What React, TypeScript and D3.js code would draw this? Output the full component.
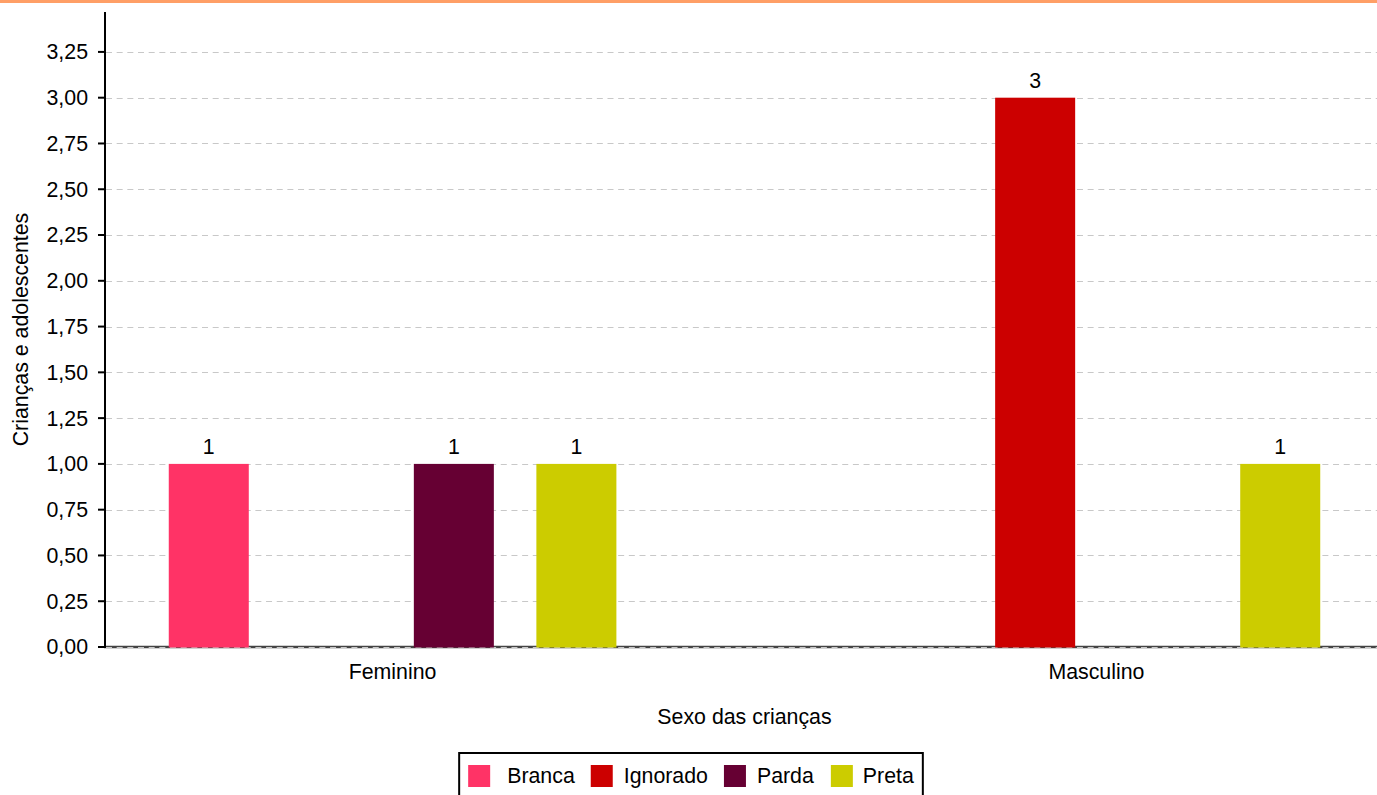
import React from 'react';
import * as d3 from 'd3';

const categories = ['Feminino', 'Masculino'];
const seriesNames = ['Branca', 'Ignorado', 'Parda', 'Preta'];
const seriesColors = ['#ff3366', '#cc0000', '#660033', '#cccc00'];
const valuesFeminino: (number | null)[] = [1, null, 1, 1];
const valuesMasculino: (number | null)[] = [null, 3, null, 1];
const yTickValues = [0, 0.25, 0.5, 0.75, 1, 1.25, 1.5, 1.75, 2, 2.25, 2.5, 2.75, 3, 3.25];
const yTitle = 'Crianças e adolescentes';
const xTitle = 'Sexo das crianças';

const W = 1377;
const H = 795;
const FONT = '"Liberation Sans", Arial, Helvetica, sans-serif';
const FS = 21.33;
const left = 105;
const right = 1385;
const top = 12;
const bottom = 647;

function measure(text: string, size: number) {
  const c = document.createElement('canvas').getContext('2d');
  if (!c) return text.length * size * 0.55;
  c.font = `${size}px ${FONT}`;
  return c.measureText(text).width;
}

export default function App() {
  const table = [valuesFeminino, valuesMasculino];
  const x0 = d3.scaleBand<string>().domain(categories).range([104, right]).paddingInner(0.18).paddingOuter(0);
  const x1 = d3
    .scaleBand<string>()
    .domain(seriesNames)
    .range([0, x0.bandwidth()])
    .paddingInner(0.347)
    .paddingOuter(0.5285);
  const y = d3.scaleLinear().domain([0, 3.468]).range([bottom, top]);
  const fmt = (v: number) => d3.format('.2f')(v).replace('.', ',');

  // legend layout
  const sw = 22;
  const legendGapsText = [17, 11, 11, 10];
  const legendGapsAfter = [16, 16, 17, 10];
  const items: { x: number; tx: number; name: string; color: string }[] = [];
  let cur = 10;
  seriesNames.forEach((n, i) => {
    const tw = measure(n, FS);
    items.push({ x: cur, tx: cur + sw + legendGapsText[i], name: n, color: seriesColors[i] });
    cur += sw + legendGapsText[i] + tw + legendGapsAfter[i];
  });
  const legendW = cur;
  const legendX = 691 - legendW / 2;

  return (
    <svg
      width={W}
      height={H}
      style={{ position: 'absolute', left: 0, top: 0, fontFamily: FONT }}
    >
      <rect x={0} y={0} width={W} height={H} fill="#fff" />
      <rect x={0} y={0} width={W} height={3} fill="#ff9f66" />
      {/* x axis base line */}
      <line x1={104} x2={right} y1={bottom} y2={bottom} stroke="#444" strokeWidth={2.5} />
      {/* gridlines */}
      {yTickValues.map((t) => (
        <line
          key={'g' + t}
          x1={left + 1}
          x2={right}
          y1={Math.round(y(t)) + 0.5}
          y2={Math.round(y(t)) + 0.5}
          stroke="#c8c8c8"
          strokeWidth={1}
          strokeDasharray="6,4.67"
        />
      ))}
      {/* bars */}
      {categories.map((c, ci) =>
        seriesNames.map((s, si) => {
          const v = table[ci][si];
          if (v == null) return null;
          const bx = (x0(c) as number) + (x1(s) as number);
          return (
            <g key={c + s}>
              <rect x={bx} y={y(v)} width={x1.bandwidth()} height={bottom + 0.5 - y(v)} fill={seriesColors[si]} />
              <text x={bx + x1.bandwidth() / 2} y={y(v) - 10} textAnchor="middle" fontSize={FS} fill="#000">
                {v}
              </text>
            </g>
          );
        })
      )}
      {/* y axis */}
      <line x1={left} x2={left} y1={top} y2={bottom + 1} stroke="#000" strokeWidth={2} />
      {yTickValues.map((t) => (
        <g key={'t' + t}>
          <line x1={98} x2={left} y1={y(t)} y2={y(t)} stroke="#000" strokeWidth={2} />
          <text x={88} y={y(t)} dy="0.35em" textAnchor="end" fontSize={FS} fill="#000">
            {fmt(t)}
          </text>
        </g>
      ))}
      {/* x category labels */}
      {categories.map((c) => (
        <text key={c} x={(x0(c) as number) + x0.bandwidth() / 2} y={679} textAnchor="middle" fontSize={FS} fill="#000">
          {c}
        </text>
      ))}
      <text x={(104 + right) / 2} y={724} textAnchor="middle" fontSize={FS} fill="#000">
        {xTitle}
      </text>
      <text
        transform={`translate(28,${(top + bottom) / 2}) rotate(-90)`}
        textAnchor="middle"
        fontSize={FS}
        fill="#000"
      >
        {yTitle}
      </text>
      {/* legend */}
      <g transform={`translate(${legendX},752)`}>
        <rect x={1} y={1} width={legendW - 2} height={50} fill="#fff" stroke="#000" strokeWidth={2} />
        {items.map((it) => (
          <g key={it.name}>
            <rect x={it.x} y={13} width={sw} height={22} fill={it.color} />
            <text x={it.tx} y={31} fontSize={FS} fill="#000">
              {it.name}
            </text>
          </g>
        ))}
      </g>
    </svg>
  );
}
